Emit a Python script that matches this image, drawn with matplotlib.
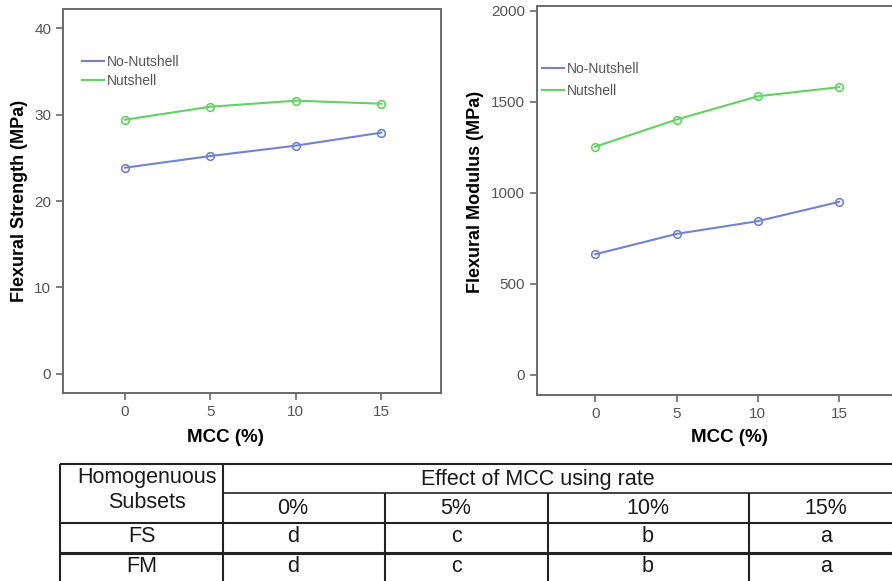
import numpy as np
import matplotlib
matplotlib.use("Agg")
import matplotlib.pyplot as plt

plt.rcParams["font.family"] = ["Liberation Sans", "DejaVu Sans"]

# data
mcc = [0, 5, 10, 15]
fs_no_nutshell = [23.85, 25.2, 26.4, 27.9]
fs_nutshell = [29.4, 30.9, 31.6, 31.25]
fm_no_nutshell = [663, 775, 845, 951]
fm_nutshell = [1254, 1403, 1531, 1581]

series_names = ["No-Nutshell", "Nutshell"]
table_header = "Effect of MCC using rate"
table_cols = ["0%", "5%", "10%", "15%"]
table_rows = ["FS", "FM"]
fs_groups = ["d", "c", "b", "a"]
fm_groups = ["d", "c", "b", "a"]

BLUE = "#7282d2"
GREEN = "#62d262"
SPINE = "#6a6a6a"
TICK_TXT = "#555555"

W, H = 892, 581
fig = plt.figure(figsize=(W / 100, H / 100), dpi=100)


def px_axes(x0, y0, x1, y1):
    # pixel box (top-left origin) -> figure fraction
    return fig.add_axes([x0 / W, 1 - y1 / H, (x1 - x0) / W, (y1 - y0) / H])


def style(ax, ylab, yticks, xlim, ylim, xlab_px, ylab_px):
    ax.set_xlim(*xlim)
    ax.set_ylim(*ylim)
    ax.set_xticks(mcc)
    ax.set_yticks(yticks)
    for s in ax.spines.values():
        s.set_color(SPINE)
        s.set_linewidth(1.4)
    ax.tick_params(direction="out", length=5, width=1.2, color=SPINE,
                   labelcolor=TICK_TXT, labelsize=11)
    ax.set_xlabel("MCC (%)", fontsize=13.5, fontweight="bold")
    ax.set_ylabel(ylab, fontsize=13, fontweight="bold")
    ax.xaxis.set_label_coords(xlab_px[0] / W, 1 - xlab_px[1] / H,
                              transform=fig.transFigure)
    ax.yaxis.set_label_coords(ylab_px[0] / W, 1 - ylab_px[1] / H,
                              transform=fig.transFigure)
    ax.xaxis.label.set_va("center")
    ax.yaxis.label.set_va("center")


def draw(ax, no_vals, nut_vals, anchor, spacing):
    ax.plot(mcc, no_vals, color=BLUE, lw=1.5, marker="o", ms=5.5,
            mfc="none", mew=1.2, label=series_names[0])
    ax.plot(mcc, nut_vals, color=GREEN, lw=1.5, marker="o", ms=5.5,
            mfc="none", mew=1.2, label=series_names[1])
    leg = ax.legend(loc="upper left", bbox_to_anchor=anchor,
                    bbox_transform=fig.transFigure, frameon=False,
                    fontsize=10, handlelength=1.6, handletextpad=0.2,
                    labelspacing=spacing, borderaxespad=0, borderpad=0)
    for h in leg.get_lines():
        h.set_marker("")
    for t in leg.get_texts():
        t.set_color(TICK_TXT)


ax1 = px_axes(63, 9, 441, 393)
draw(ax1, fs_no_nutshell, fs_nutshell, (82 / W, 1 - 55 / H), 0.35)
style(ax1, "Flexural Strength (MPa)", [0, 10, 20, 30, 40],
      (-3.63, 18.5), (-2.2, 42.2), (225, 438), (20, 201))

ax2 = px_axes(537, 6, 896, 395)
draw(ax2, fm_no_nutshell, fm_nutshell, (542 / W, 1 - 62 / H), 0.55)
style(ax2, "Flexural Modulus (MPa)", [0, 500, 1000, 1500, 2000],
      (-3.58, 18.5), (-110, 2027), (729, 438), (476, 192))

# table drawn in pixel space
tb = fig.add_axes([0, 0, 1, 1], zorder=-1)
tb.set_xlim(0, W)
tb.set_ylim(H, 0)
tb.axis("off")
lc = "#222222"
tb.hlines(464, 60, W, color=lc, lw=1.5)
tb.hlines(493, 223, W, color=lc, lw=1.2)
tb.hlines(523, 60, W, color=lc, lw=1.5)
tb.hlines(553, 60, W, color=lc, lw=2.2)
tb.vlines(60, 464, H, color=lc, lw=1.5)
tb.vlines(223, 464, H, color=lc, lw=1.5)
for xb in [385, 548, 749]:
    tb.vlines(xb, 493, H, color=lc, lw=1.5)

tfs = 15.5
tc = "#1a1a1a"
tb.text(147, 478, "Homogenuous", ha="center", va="center", fontsize=tfs, color=tc)
tb.text(147, 503, "Subsets", ha="center", va="center", fontsize=tfs, color=tc)
tb.text(538, 479, table_header, ha="center", va="center", fontsize=tfs, color=tc)
col_x = [293, 456, 648, 826]
for x, c in zip(col_x, table_cols):
    tb.text(x, 508, c, ha="center", va="center", fontsize=tfs, color=tc)
for y, name, groups in zip([537, 566], table_rows, [fs_groups, fm_groups]):
    tb.text(142, y, name, ha="center", va="center", fontsize=tfs, color=tc)
    for x, g in zip(col_x, groups):
        tb.text(x, y, g, ha="center", va="center", fontsize=tfs, color=tc)

fig.savefig("out.png", dpi=100)
